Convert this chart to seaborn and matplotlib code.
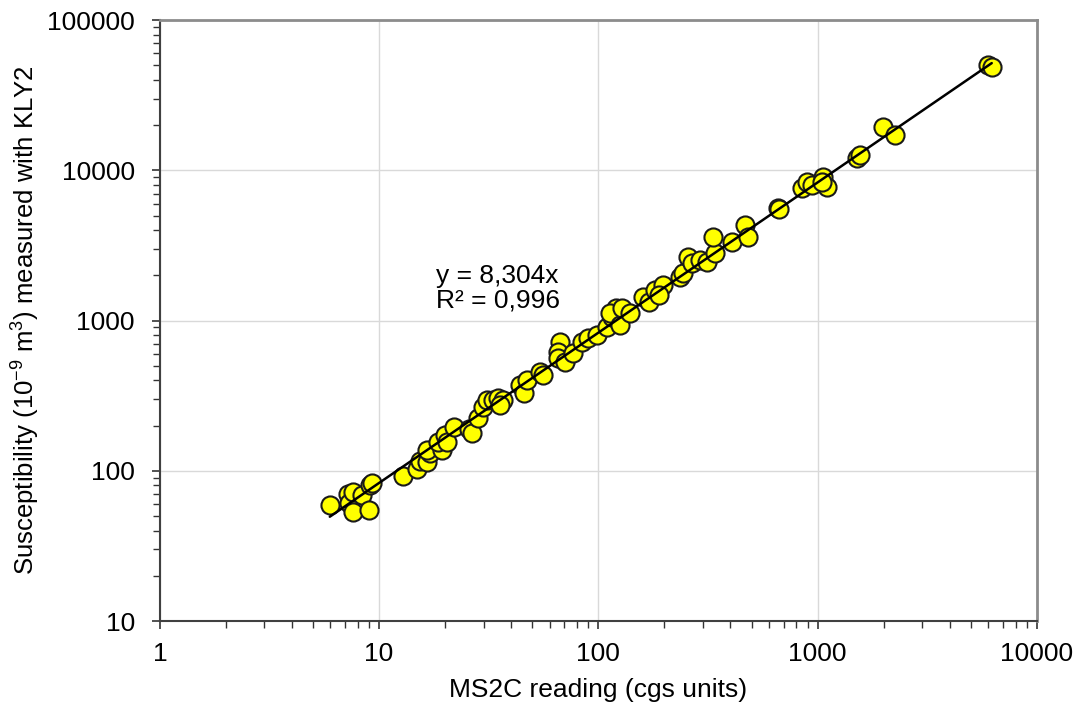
import numpy as np
import pandas as pd
import matplotlib
matplotlib.use("Agg")
import matplotlib.pyplot as plt
import matplotlib.ticker as mticker
import seaborn as sns

# MS2C readings (cgs units) vs KLY2 susceptibility (1e-9 m3)
ms2c = [5.96, 7.2, 7.3, 7.6, 7.6, 8.35, 9.0, 9.1, 9.3, 12.8,
        14.9, 15.3, 16.5, 17.0, 16.5, 19.3, 18.5, 20.0, 20.4, 21.9,
        25.7, 26.4, 28.2, 29.7, 31.0, 33.0, 34.8, 36.6, 35.5, 43.9,
        46.0, 47.5, 54.0, 56.0, 66.7, 65.6, 65.6, 70.3, 76.5, 84.0,
        89.5, 98.5, 109, 115, 121, 113, 125, 128, 139, 160,
        171, 181, 197, 190, 235, 243, 256, 268, 290, 312,
        340, 333, 406, 466, 480, 659, 670, 848, 893, 947,
        1057, 1100, 1050, 1510, 1560, 1990, 2250, 5980, 6230]
kly2 = [59, 70, 61, 53, 72, 69, 55, 80, 83, 92,
        103, 117, 114, 131, 137, 137, 155, 173, 155, 196,
        191, 178, 224, 265, 296, 296, 305, 296, 274, 372,
        330, 402, 454, 433, 720, 617, 563, 530, 608, 720,
        765, 800, 905, 1055, 1210, 1122, 935, 1210, 1130, 1435,
        1330, 1595, 1720, 1485, 1950, 2070, 2650, 2415, 2530, 2470,
        2810, 3600, 3330, 4330, 3600, 5610, 5500, 7620, 8360, 8000,
        9020, 7750, 8360, 12080, 12650, 19400, 17200, 50100, 48600]

slope = 8.304
r2_text = "0,996"
x_ticks = [1, 10, 100, 1000, 10000]
y_ticks = [10, 100, 1000, 10000, 100000]

df = pd.DataFrame({"ms2c": ms2c, "kly2": kly2})
fit = pd.DataFrame({"x": [min(ms2c), max(ms2c)]})
fit["y"] = slope * fit["x"]

sns.set_style("white")
plt.rcParams["font.family"] = ["Liberation Sans", "DejaVu Sans"]
plt.rcParams["mathtext.fontset"] = "custom"
plt.rcParams["mathtext.rm"] = "Liberation Sans"
plt.rcParams["mathtext.it"] = "Liberation Sans:italic"
plt.rcParams["text.color"] = "black"
plt.rcParams["axes.labelcolor"] = "black"
plt.rcParams["xtick.color"] = "black"
plt.rcParams["ytick.color"] = "black"

fig = plt.figure(figsize=(10.8, 7.18), dpi=100)
ax = fig.add_axes([0.148, 0.135, 0.812, 0.837])

sns.scatterplot(data=df, x="ms2c", y="kly2", ax=ax, s=170,
                color="#ffff00", edgecolor="#1a1a1a", linewidth=1.5,
                zorder=3, legend=False)
sns.lineplot(data=fit, x="x", y="y", ax=ax, color="black",
             linewidth=1.8, zorder=4)

ax.set_xscale("log")
ax.set_yscale("log")
ax.set_xlim(x_ticks[0], x_ticks[-1])
ax.set_ylim(y_ticks[0], y_ticks[-1])
ax.set_xticks(x_ticks)
ax.set_yticks(y_ticks)
fmt = mticker.FuncFormatter(lambda v, p: f"{int(round(v))}")
ax.xaxis.set_major_formatter(fmt)
ax.yaxis.set_major_formatter(fmt)
ax.xaxis.set_minor_locator(mticker.LogLocator(base=10, subs=np.arange(2, 10)))
ax.yaxis.set_minor_locator(mticker.LogLocator(base=10, subs=np.arange(2, 10)))
ax.xaxis.set_minor_formatter(mticker.NullFormatter())
ax.yaxis.set_minor_formatter(mticker.NullFormatter())

ax.tick_params(axis="both", which="both", bottom=True, left=True,
               top=False, right=False)
ax.tick_params(axis="both", which="major", direction="out", length=6,
               width=1.2, color="#333333", labelsize=19)
ax.tick_params(axis="both", which="minor", direction="out", length=5,
               width=1, color="#333333")
ax.tick_params(axis="x", which="major", pad=9)
ax.tick_params(axis="y", which="major", pad=12)

ax.grid(True, which="major", color="#d9d9d9", linewidth=1)
ax.set_axisbelow(True)
for side in ["left", "bottom"]:
    ax.spines[side].set_color("#404040")
    ax.spines[side].set_linewidth(1.5)
for side in ["top", "right"]:
    ax.spines[side].set_visible(True)
    ax.spines[side].set_color("#8c8c8c")
    ax.spines[side].set_linewidth(2)

ax.set_xlabel("MS2C reading (cgs units)", fontsize=19, labelpad=9)
ax.set_ylabel("Susceptibility (10$^{-9}$ m$^{3}$) measured with KLY2",
              fontsize=18.5)
ax.yaxis.set_label_coords(-0.134, 0.5)

ax.text(0.315, 0.554, f"y = {slope:.3f}x".replace(".", ",") + f"\nR² = {r2_text}",
        transform=ax.transAxes, fontsize=19, ha="left", va="center",
        linespacing=1.05)

fig.savefig("out.png", dpi=100)
